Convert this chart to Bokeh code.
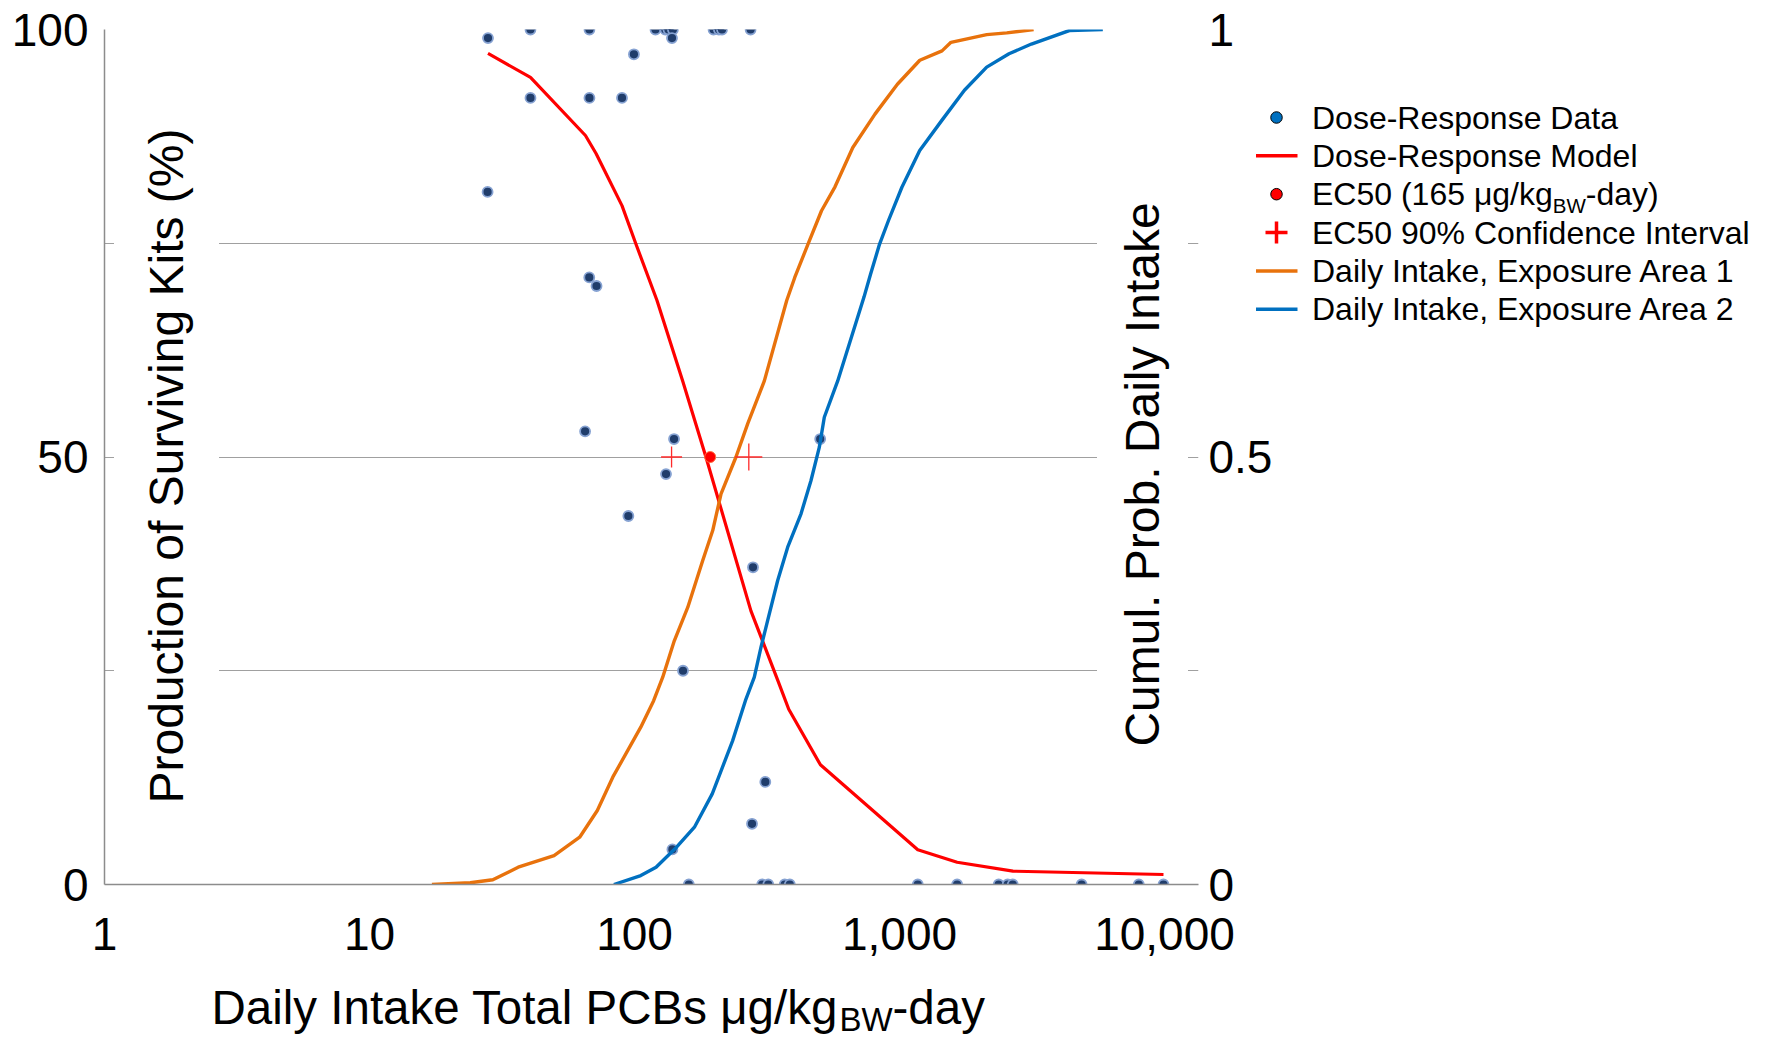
import math
from bokeh.plotting import figure
from bokeh.models import (Range1d, LinearAxis, FixedTicker, NumeralTickFormatter,
                          Label, GridBox)
from bokeh.core.properties import value
from bokeh.embed import file_html
from bokeh.resources import INLINE

# ---------------- data ----------------
dose_data = [28, 27.9, 40.5, 67.6, 120, 130.7, 134.3, 139.6, 198.7, 208.2, 213.9, 274.2,
             138.5, 99.5, 40.5, 67.6, 89.7, 67.5, 71.9, 65.1, 141, 131.5, 94.8, 280, 502,
             152.4, 139, 277.6, 311.6,
             160.3, 303.3, 319.8, 368.8, 385.5, 1172, 1650, 2367, 2560, 2675, 4866, 7998, 9913]
pct_data = [99.0, 81.0, 100, 100, 100, 100, 100, 100, 100, 100, 100, 100,
            99.0, 97.1, 92.0, 92.0, 92.0, 71.0, 70.0, 53.0, 52.1, 48.0, 43.1, 37.1, 52.1,
            25.0, 4.1, 7.1, 12.0,
            0, 0, 0, 0, 0, 0, 0, 0, 0, 0, 0, 0, 0]

model_dose = [28, 40.5, 65.3, 71.6, 89.7, 101, 121.6, 152, 186, 275, 347, 382, 503,
              1172, 1650, 2680, 9913]
model_pct = [97.2, 94.4, 87.6, 85.5, 79.4, 75.0, 68.3, 58.9, 50.0, 32.0, 23.9, 20.5, 14.0,
             4.06, 2.6, 1.56, 1.17]

ec50_dose = [193]
ec50_pct = [50]
ci_dose = [138, 270]
ci_pct = [50, 50]

area1_dose = [17.2, 24, 29.2, 36.4, 49.7, 62.1, 72.4, 82.8, 105.6, 118.1, 127.8, 141.3,
              158.8, 180.9, 197.3, 212.1, 241.5, 267.5, 309, 375.3, 402.5, 451.6, 507.8,
              571, 666.5, 808, 982, 1193, 1447, 1564, 2133, 2541, 3207]
area1_prob = [0.0, 0.002, 0.0055, 0.0202, 0.0339, 0.0553, 0.0866, 0.1255, 0.184, 0.215,
              0.2425, 0.285, 0.324, 0.379, 0.414, 0.457, 0.5, 0.539, 0.589, 0.683, 0.710,
              0.749, 0.788, 0.816, 0.862, 0.901, 0.936, 0.964, 0.975, 0.985, 0.994, 0.996, 1.0]

area2_dose = [83.6, 105.6, 120.6, 144.1, 168.3, 196.5, 234.5, 262.1, 283.2, 300.2, 318.1,
              347, 378.5, 425, 463.5, 498.3, 520.3, 584.6, 734.5, 778, 841, 908.8, 1021,
              1192, 1447, 1758, 2133, 2590, 3146, 4374, 5851]
area2_prob = [0.0, 0.0105, 0.0202, 0.0436, 0.067, 0.106, 0.168, 0.215, 0.2425, 0.2775, 0.309,
              0.3556, 0.3945, 0.4336, 0.4725, 0.5115, 0.5465, 0.589, 0.687, 0.714, 0.749,
              0.7766, 0.8155, 0.8585, 0.894, 0.929, 0.956, 0.9716, 0.983, 0.9988, 1.0]

x_ticks = [1, 10, 100, 1000, 10000]
y_ticks = [0, 50, 100]
y_minor_ticks = [25, 75]
prob_ticks = [0, 0.5, 1]

legend_labels = ["Dose-Response Data", "Dose-Response Model", None,
                 "EC50 90% Confidence Interval", "Daily Intake, Exposure Area 1",
                 "Daily Intake, Exposure Area 2"]
ec50_label_parts = ["EC50 (165 \u03bcg/kg", "BW", "-day)"]
x_title_parts = ["Daily Intake Total PCBs \u03bcg/kg", "BW", "-day"]
y_title = "Production of Surviving Kits (%)"
y2_title = "Cumul. Prob. Daily Intake"

# ---------------- style / layout ----------------
FONT = "Liberation Sans"
RED, ORANGE, BLUE = "#FF0000", "#E8720C", "#0070C0"
AX, GRID = "#8C8C8C", "#A0A0A0"
W, H = 1765, 1037
FX, FY = 104.0, 884.0            # page position of frame left / bottom
FRAME_W, FRAME_H = 1094, 855
ML, MT = int(FX), int(FY - FRAME_H)
MR = W - ML - FRAME_W
MB = H - MT - FRAME_H
PX_PER_DECADE = 265.0
MID = 0.3465                     # 'middle' offset above the baseline, in em

ARIAL = {' ': 278, '(': 333, ')': 333, ',': 278, '-': 333, '.': 278, '/': 278, '%': 889,
         'A': 667, 'B': 667, 'C': 722, 'D': 722, 'E': 667, 'I': 278, 'K': 667, 'M': 833,
         'P': 667, 'R': 722, 'S': 667, 'T': 611, 'W': 944,
         'a': 556, 'b': 556, 'c': 500, 'd': 556, 'e': 556, 'f': 278, 'g': 556, 'i': 222,
         'k': 500, 'l': 222, 'm': 833, 'n': 556, 'o': 556, 'p': 556, 'r': 333, 's': 500,
         't': 278, 'u': 556, 'v': 500, 'y': 500, '\u03bc': 576}


def tw(s, size):
    return sum(ARIAL.get(c, 556) for c in s) / 1000.0 * size


# ================= main chart =================
p = figure(width=W, height=H, x_axis_type="log",
           x_range=Range1d(1, 10 ** (FRAME_W / PX_PER_DECADE)), y_range=Range1d(0, 100),
           output_backend="svg", toolbar_location=None,
           min_border_left=ML, min_border_right=MR, min_border_top=MT, min_border_bottom=MB)
p.frame_align = False
p.outline_line_color = None
p.extra_y_ranges = {"prob": Range1d(0, 1)}

xa = p.xaxis[0]
xa.ticker = FixedTicker(ticks=x_ticks)
xa.formatter = NumeralTickFormatter(format="0,0")
xa.major_label_standoff = 27

ya = p.yaxis[0]
ya.ticker = FixedTicker(ticks=y_ticks, minor_ticks=y_minor_ticks)
ya.major_label_standoff = 10

ra = LinearAxis(y_range_name="prob", ticker=FixedTicker(ticks=prob_ticks),
                formatter=NumeralTickFormatter(format="0.[0]"))
ra.major_label_standoff = 4
ra.axis_line_color = None
p.add_layout(ra, "right")

for ax in [xa, ya, ra]:
    ax.major_tick_line_color = None
    ax.minor_tick_line_color = None
    ax.major_label_text_font = FONT
    ax.major_label_text_font_size = "46px"
    ax.major_label_text_color = "black"
for ax in [xa, ya]:
    ax.axis_line_color = AX
    ax.axis_line_width = 1.5

p.xgrid.visible = False
p.ygrid.grid_line_color = GRID
p.ygrid.minor_grid_line_color = GRID

p.scatter(dose_data, pct_data, size=10, fill_color="#203D6B", line_color="#86A2D2",
          line_width=1.8)
p.line(model_dose, model_pct, line_color=RED, line_width=3.2, line_join="round")
p.line(area1_dose, area1_prob, y_range_name="prob", line_color=ORANGE, line_width=3.4,
       line_join="round")
p.line(area2_dose, area2_prob, y_range_name="prob", line_color=BLUE, line_width=3.4,
       line_join="round")
p.scatter(ec50_dose, ec50_pct, size=11, fill_color=RED, line_color="#FF7040", line_width=1)
p.scatter(ci_dose, ci_pct, marker="cross", size=[21, 27], line_color="#FF2A2A",
          line_width=1.3)

# vertical axis titles, inside the frame, white-backed so they break the gridlines
p.add_layout(Label(x=166 - FX, y=FY - 465.5, x_units="screen", y_units="screen",
                   text=y_title, angle=math.pi / 2, text_align="center",
                   text_baseline="middle", text_font=FONT, text_font_size="48px",
                   text_color="black", background_fill_color="white", padding=26))
p.add_layout(Label(x=1142 - FX, y=FY - 474, x_units="screen", y_units="screen",
                   text=y2_title, angle=math.pi / 2, text_align="center",
                   text_baseline="middle", text_font=FONT, text_font_size="48px",
                   text_color="black", background_fill_color="white", padding=19))

# ================= transparent overlay (legend + x title) =================
q = figure(width=W, height=H, x_range=Range1d(0, W), y_range=Range1d(0, H),
           output_backend="svg", toolbar_location=None,
           x_axis_location=None, y_axis_location=None,
           min_border_left=0, min_border_right=0, min_border_top=0, min_border_bottom=0)
q.frame_align = False
q.grid.visible = False
q.outline_line_color = None
q.background_fill_color = None
q.border_fill_color = None


def put_text(x, page_mid, s, fs):
    q.text(x=[x], y=[H - page_mid], text=[s], text_font=value(FONT),
           text_font_size=value(f"{fs}px"), text_align="left",
           text_baseline="middle", text_color="black")


def sub_text(x0, page_base, parts, size, sub_size, sub_drop, kern=0.0):
    x = x0
    for i, s in enumerate(parts):
        fs = sub_size if i == 1 else size
        base = page_base + (sub_drop if i == 1 else 0)
        put_text(x, base - MID * fs, s, fs)
        x += tw(s, fs) - (kern if i == 0 else 0)


sub_text(211.0, 1023, x_title_parts, 47.5, 33, 7, kern=4)

LEG_TEXT_X = 1311.5
LEG_SYM_X = 1276
ROW0, ROW_DY, LFS = 117.0, 38.35, 32

for i in range(6):
    cy = ROW0 + i * ROW_DY
    if i in (0, 2):
        q.scatter(x=[LEG_SYM_X], y=[H - cy], size=11.5, fill_color=BLUE if i == 0 else RED,
                  line_color="black", line_width=1)
    elif i == 3:
        q.scatter(x=[LEG_SYM_X], y=[H - cy], marker="cross", size=22, line_color=RED,
                  line_width=3.5)
    else:
        col = {1: RED, 4: ORANGE, 5: BLUE}[i]
        q.segment(x0=[1255.5], y0=[H - cy], x1=[1297], y1=[H - cy], line_color=col,
                  line_width=3.5)
    if i == 2:
        sub_text(LEG_TEXT_X, cy + MID * LFS, ec50_label_parts, LFS, 20.5, 7)
    else:
        put_text(LEG_TEXT_X, cy, legend_labels[i], LFS)

layout = GridBox(children=[(p, 0, 0), (q, 0, 0)])
open("out.html", "w").write(file_html(layout, INLINE))
